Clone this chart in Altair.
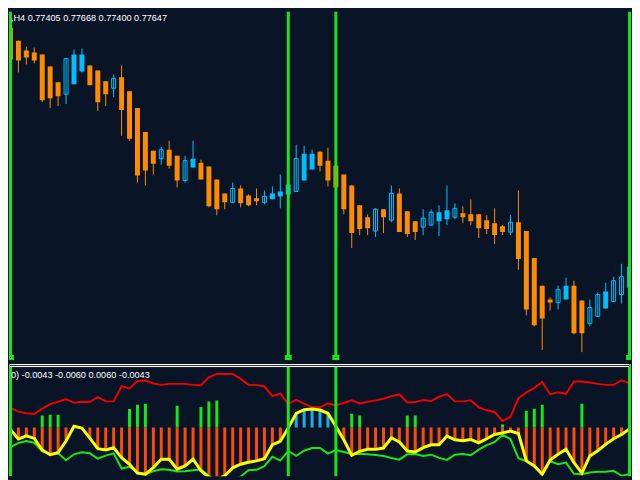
import altair as alt
import pandas as pd

# ---------------- data ----------------
# bar index (H4 candles), -1 is the partly visible candle at the left edge
bar_index = list(range(-1, 80))

# prices in points (1 point = 0.00001)
open_pts = [78419, 78475, 78423, 78383, 78375, 78367, 78319, 78255, 78207, 78247,
            78299, 78323, 78303, 78259, 78231, 78275, 78219, 78151, 78055, 77979,
            77947, 77983, 77959, 77859, 77911, 77931, 77915, 77863, 77807, 77771,
            77827, 77799, 77787, 77771, 77783, 77795, 77803, 77815, 77859, 77903,
            77975, 77939, 77919, 77883, 77839, 77759, 77711, 77655, 77743, 77699,
            77807, 77735, 77695, 77671, 77679, 77695, 77703, 77711, 77727, 77723,
            77723, 77699, 77687, 77675, 77651, 77691, 77655, 77547, 77435, 77379,
            77367, 77379, 77435, 77375, 77283, 77311, 77343, 77371, 77399, 77427,
            77411]
high_pts = [78479, 78483, 78423, 78399, 78395, 78367, 78319, 78255, 78351, 78387,
            78391, 78323, 78303, 78259, 78287, 78323, 78219, 78151, 78055, 77979,
            77995, 78019, 77959, 77959, 78019, 77943, 77915, 77863, 77807, 77851,
            77839, 77803, 77827, 77819, 77835, 77883, 77851, 78003, 77999, 77983,
            77979, 77991, 77931, 77883, 77839, 77759, 77723, 77747, 77743, 77839,
            77827, 77735, 77695, 77743, 77743, 77759, 77839, 77767, 77755, 77783,
            77723, 77719, 77747, 77679, 77719, 77819, 77655, 77547, 77435, 77387,
            77435, 77467, 77455, 77375, 77379, 77407, 77447, 77471, 77523, 77523,
            77647]
low_pts = [78379, 78339, 78295, 78327, 78331, 78175, 78151, 78159, 78167, 78247,
           78295, 78243, 78139, 78159, 78195, 78039, 78019, 77851, 77839, 77883,
           77923, 77907, 77831, 77851, 77911, 77863, 77751, 77719, 77743, 77767,
           77751, 77755, 77759, 77763, 77783, 77747, 77803, 77815, 77859, 77903,
           77895, 77835, 77831, 77723, 77587, 77639, 77639, 77631, 77647, 77691,
           77651, 77631, 77619, 77639, 77679, 77635, 77679, 77703, 77687, 77679,
           77627, 77643, 77603, 77639, 77639, 77499, 77315, 77271, 77175, 77335,
           77339, 77379, 77239, 77167, 77271, 77311, 77343, 77371, 77363, 77427,
           77411]
close_pts = [78475, 78347, 78343, 78355, 78343, 78183, 78191, 78199, 78351, 78367,
             78367, 78243, 78175, 78207, 78271, 78143, 78027, 77879, 77899, 77927,
             77983, 77919, 77859, 77939, 77947, 77863, 77755, 77743, 77771, 77827,
             77767, 77759, 77775, 77795, 77807, 77815, 77843, 77947, 77967, 77967,
             77919, 77859, 77831, 77743, 77647, 77663, 77667, 77743, 77711, 77807,
             77651, 77643, 77651, 77707, 77731, 77731, 77739, 77747, 77711, 77695,
             77667, 77663, 77639, 77651, 77691, 77543, 77339, 77275, 77303, 77367,
             77419, 77435, 77243, 77243, 77347, 77399, 77411, 77455, 77471, 77511,
             77647]
# bull candles that are drawn as hollow bodies
hollow_bars = [-1, 7, 13, 19, 22, 28, 32, 36, 46, 48, 52, 53, 56, 63, 69, 73, 74,
               76, 77, 79]

# oscillator panel (units of 0.0001)
osc_main = [4.2, -2.8, -16.3, -11.7, -15.4, -31.7, -38.3, -35.5, -19.1, 1.9,
            -0.9, -14.9, -29.9, -31.7, -28.5, -42.5, -51.8, -64.4, -65.8, -56.5,
            -44.8, -44.8, -58.8, -54.1, -44.8, -61.1, -70.5, -72.8, -68.1, -56.9,
            -51.8, -49.0, -47.1, -43.9, -24.3, -19.6, -0.5, 20.1, 25.2, 26.1,
            24.7, 20.1, 1.4, -17.3, -39.2, -33.6, -30.8, -30.8, -28.9, -14.5,
            -20.5, -33.1, -34.5, -28.5, -24.3, -24.3, -12.1, -17.3, -18.7, -16.8,
            -21.5, -15.9, -9.8, -7.5, -5.1, -8.4, -47.1, -54.1, -65.8, -45.7,
            -37.8, -30.8, -49.5, -64.4, -40.1, -32.7, -23.8, -15.9, -9.8, -1.9,
            29.9]
band_upper = [23.3, 27.5, 22.4, 20.1, 19.1, 26.6, 33.1, 36.4, 40.1, 35.0,
              36.4, 35.9, 42.9, 36.9, 36.9, 58.3, 55.1, 65.8, 66.3, 62.1,
              60.2, 61.6, 61.6, 61.6, 60.2, 59.7, 70.9, 75.6, 75.6, 75.6,
              68.6, 60.2, 60.2, 57.9, 44.3, 48.1, 33.1, 39.2, 33.6, 28.5,
              28.5, 34.1, 31.3, 35.0, 38.3, 34.1, 36.4, 38.3, 40.6, 44.3,
              46.7, 35.5, 35.9, 38.7, 37.3, 43.4, 47.1, 36.9, 36.9, 38.3,
              28.5, 24.3, 21.9, 9.3, 14.9, 41.5, 49.5, 56.0, 64.4, 46.7,
              49.9, 47.6, 64.9, 64.9, 63.5, 61.6, 60.2, 60.2, 66.7, 62.5,
              67.2]
band_lower = [-21.9, -27.5, -21.9, -19.1, -21.5, -33.6, -37.3, -36.4, -46.2, -37.8,
              -35.0, -36.4, -43.9, -39.7, -36.4, -57.9, -55.5, -63.0, -66.3, -61.6,
              -58.8, -59.7, -62.1, -61.6, -60.2, -59.3, -68.1, -75.1, -76.5, -75.6,
              -69.1, -60.2, -59.7, -54.6, -41.1, -46.7, -33.1, -40.1, -32.7, -28.9,
              -28.9, -36.9, -31.7, -34.5, -37.3, -36.9, -37.8, -38.7, -40.1, -42.9,
              -45.3, -37.8, -37.3, -40.1, -38.3, -42.9, -45.7, -38.3, -37.3, -39.2,
              -31.3, -24.7, -20.5, -10.3, -16.3, -43.4, -47.6, -54.1, -64.4, -47.6,
              -51.8, -49.5, -65.3, -65.8, -63.5, -62.5, -62.5, -61.1, -68.1, -65.8,
              -65.8]
signal_bars = [4, 5, 6, 15, 16, 17, 21, 24, 25, 26, 43, 44, 50, 51, 62, 65, 66, 67, 72]
signal_values = [16.8, 18.2, 18.2, 26.1, 32.2, 33.6, 30.8, 28.9, 36.9, 38.3,
                 19.6, 16.8, 16.8, 16.8, 4.2, 23.8, 26.6, 32.2, 33.6]

vline_bars = [0, 35, 41, 78]

price_header = ",H4  0.77405 0.77668 0.77400 0.77647"
osc_header = "0) -0.0043 -0.0060 0.0060 -0.0043"

# ---------------- styling ----------------
BG = "#091526"
BLUE = "#00BFFF"
ORANGE = "#FF8C00"
GREEN = "#19E619"
RED = "#F00000"
YELLOW = "#FFFF00"
HIST_ORANGE = "#FF4A0A"
HIST_BLUE = "#12B2F0"
FONT = "Liberation Sans"

W = 624
H1 = 351
H2 = 113

df = pd.DataFrame({
    "k": bar_index,
    "open": [v / 1e5 for v in open_pts],
    "high": [v / 1e5 for v in high_pts],
    "low": [v / 1e5 for v in low_pts],
    "close": [v / 1e5 for v in close_pts],
    "osc": osc_main,
    "upper": band_upper,
    "lower": band_lower,
})
df["hollow"] = df["k"].isin(hollow_bars)
sig = pd.DataFrame({"k": signal_bars, "sig": signal_values})
vl = pd.DataFrame({"k": vline_bars})

xs = alt.Scale(domain=[-0.0625, 77.9375], nice=False, zero=False, padding=0)
X = alt.X("k:Q", scale=xs, axis=None)
ys = alt.Scale(domain=[0.77135, 0.78539], nice=False, zero=False, padding=0)
ys2 = alt.Scale(domain=[(64 - H2) * 1.4, 89.6], nice=False, zero=False, padding=0)

candle_color = alt.when(alt.datum.close > alt.datum.open).then(alt.value(BLUE)).otherwise(alt.value(ORANGE))

base = alt.Chart(df)

filled = base.transform_filter("!datum.hollow").mark_bar(width=5, clip=True).encode(
    x=X, y=alt.Y("open:Q", scale=ys, axis=None), y2="close:Q", color=candle_color)
hollow = base.transform_filter("datum.hollow").mark_bar(
    width=4, fill=BG, stroke=BLUE, strokeWidth=1, clip=True).encode(
    x=X, y=alt.Y("open:Q", scale=ys, axis=None), y2="close:Q")
wicks = base.mark_rule(strokeWidth=1, clip=True).encode(
    x=X, y=alt.Y("low:Q", scale=ys, axis=None), y2="high:Q", color=candle_color)

vlines_top = alt.Chart(vl).mark_rule(strokeWidth=3, color=GREEN).encode(x=X)
squares = alt.Chart(vl).mark_bar(width=7, color=GREEN, clip=True).encode(
    x=X, y=alt.value(346), y2=alt.value(351))
dots = alt.Chart(vl).mark_bar(width=1, color=BG, clip=True).encode(
    x=X, y=alt.value(348), y2=alt.value(349))
head1 = alt.Chart(pd.DataFrame({"t": [price_header]})).mark_text(
    align="left", baseline="alphabetic", font=FONT, fontSize=9.2, color="white",
    clip=True).encode(text="t:N", x=alt.value(1), y=alt.value(9))

top = alt.layer(filled, hollow, wicks, vlines_top, squares, dots, head1).properties(
    width=W, height=H1)

hist_color = alt.when(alt.datum.osc > 0).then(alt.value(HIST_BLUE)).otherwise(alt.value(HIST_ORANGE))
hist = base.mark_bar(width=3, clip=True).encode(
    x=X, y=alt.Y("osc:Q", scale=ys2, axis=None), y2=alt.datum(0), color=hist_color)
sigbars = alt.Chart(sig).mark_bar(width=3, color=GREEN, clip=True).encode(
    x=X, y=alt.Y("sig:Q", scale=ys2, axis=None), y2=alt.datum(0))
upper = base.mark_line(color=RED, strokeWidth=2, clip=True).encode(
    x=X, y=alt.Y("upper:Q", scale=ys2, axis=None))
lower = base.mark_line(color=GREEN, strokeWidth=2, clip=True).encode(
    x=X, y=alt.Y("lower:Q", scale=ys2, axis=None))
main = base.mark_line(color=YELLOW, strokeWidth=3, clip=True).encode(
    x=X, y=alt.Y("osc:Q", scale=ys2, axis=None))
vlines_bot = alt.Chart(vl).mark_rule(strokeWidth=3, color=GREEN).encode(x=X)
sep_bg = alt.Chart(vl).mark_rule(color=BG, strokeWidth=3).encode(
    x=alt.value(0), x2=alt.value(W), y=alt.value(1.5))
sep1 = alt.Chart(vl).mark_rule(color="white", strokeWidth=1).encode(
    x=alt.value(0), x2=alt.value(W), y=alt.value(0.5))
sep2 = alt.Chart(vl).mark_rule(color="white", strokeWidth=1).encode(
    x=alt.value(0), x2=alt.value(W), y=alt.value(2.5))
head2 = alt.Chart(pd.DataFrame({"t": [osc_header]})).mark_text(
    align="left", baseline="alphabetic", font=FONT, fontSize=9.2, color="white",
    clip=True).encode(text="t:N", x=alt.value(1), y=alt.value(14.5))

bottom = alt.layer(hist, sigbars, upper, lower, main, vlines_bot, sep_bg, sep1, sep2,
                   head2).properties(width=W, height=H2)

chart = alt.vconcat(top, bottom, spacing=0).properties(
    padding=0, background=BG).configure_view(stroke=None)

chart.save("out.html", embed_options={"renderer": "svg", "actions": False})
